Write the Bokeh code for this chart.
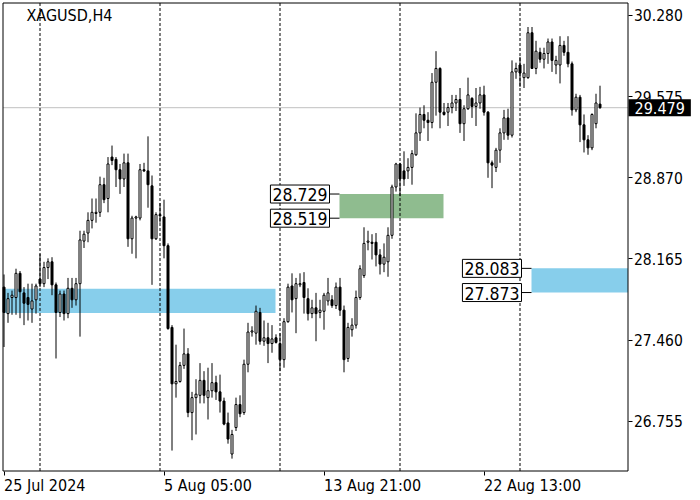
from bokeh.plotting import figure
from bokeh.models import (ColumnDataSource, Range1d, FixedTicker,
                          NumeralTickFormatter, Label)
from bokeh.embed import file_html
from bokeh.resources import INLINE

# ---------------- data ----------------
symbol = "XAGUSD,H4"

opens = [27.92, 27.69, 27.83, 27.83, 28.04, 27.87, 27.83, 27.73, 27.81, 27.99,
         27.95, 28.09, 28.14, 27.94, 27.70, 27.86, 27.69, 27.91, 27.81, 27.95,
         28.32, 28.39, 28.50, 28.56, 28.57, 28.81, 28.69, 29.05, 29.03, 28.94,
         28.86, 29.00, 28.34, 28.52, 28.52, 28.94, 28.93, 28.80, 28.34, 28.55,
         28.53, 28.28, 27.57, 27.08, 27.10, 27.24, 27.34, 26.83, 26.96, 26.98,
         27.11, 26.96, 27.02, 27.09, 27.01, 26.93, 26.74, 26.47, 26.70, 26.90,
         26.83, 27.25, 27.53, 27.52, 27.70, 27.45, 27.48, 27.43, 27.48, 27.43,
         27.29, 27.62, 27.93, 27.82, 27.94, 27.96, 27.82, 27.69, 27.74, 27.70,
         27.71, 27.80, 27.81, 27.76, 27.92, 27.72, 27.30, 27.55, 27.59, 27.83,
         28.02, 28.31, 28.31, 28.31, 28.20, 28.12, 28.14, 28.37, 28.79, 28.99,
         28.93, 28.93, 28.96, 29.07, 29.26, 29.42, 29.37, 29.35, 29.70, 29.82,
         29.44, 29.44, 29.48, 29.52, 29.55, 29.34, 29.47, 29.56, 29.49, 29.52,
         29.59, 29.44, 29.00, 28.96, 29.11, 29.26, 29.39, 29.24, 29.79, 29.85,
         29.74, 29.74, 30.13, 29.82, 29.96, 29.90, 29.95, 30.05, 29.85, 29.85,
         30.02, 29.96, 29.86, 29.46, 29.57, 29.33, 29.20, 29.13, 29.34, 29.51]
highs = [28.03, 27.87, 27.89, 28.08, 28.06, 27.92, 27.95, 27.95, 27.95, 28.21,
         28.14, 28.17, 28.18, 27.96, 27.89, 27.89, 28.00, 28.00, 28.00, 28.41,
         28.41, 28.57, 28.69, 28.69, 28.88, 28.87, 29.05, 29.15, 29.05, 28.99,
         29.08, 29.08, 28.54, 28.54, 28.99, 29.00, 29.23, 28.89, 28.57, 28.65,
         28.68, 28.30, 27.59, 27.42, 27.27, 27.56, 27.39, 27.01, 27.12, 27.26,
         27.19, 27.22, 27.26, 27.15, 27.16, 26.96, 26.83, 26.68, 26.96, 26.98,
         27.29, 27.61, 27.58, 27.76, 27.74, 27.63, 27.61, 27.59, 27.51, 27.52,
         27.65, 27.95, 28.04, 28.00, 28.04, 28.05, 27.91, 27.81, 27.87, 27.81,
         27.87, 28.00, 27.85, 27.96, 28.00, 27.76, 27.61, 27.65, 27.89, 28.11,
         28.44, 28.41, 28.38, 28.39, 28.25, 28.30, 28.44, 28.81, 29.00, 29.00,
         29.10, 29.04, 29.11, 29.43, 29.48, 29.50, 29.44, 29.78, 29.97, 29.83,
         29.52, 29.52, 29.59, 29.59, 29.65, 29.50, 29.74, 29.57, 29.65, 29.66,
         29.67, 29.45, 29.02, 29.13, 29.30, 29.46, 29.47, 29.89, 29.87, 29.92,
         29.86, 30.18, 30.18, 30.06, 30.00, 30.00, 30.08, 30.08, 29.93, 30.10,
         30.06, 30.10, 29.88, 29.60, 29.59, 29.42, 29.24, 29.43, 29.60, 29.67]
lows = [27.40, 27.61, 27.68, 27.68, 27.65, 27.59, 27.63, 27.61, 27.69, 27.92,
        27.92, 27.99, 27.85, 27.30, 27.66, 27.63, 27.65, 27.74, 27.76, 27.49,
        28.26, 28.31, 28.43, 28.48, 28.53, 28.65, 28.57, 28.98, 28.79, 28.73,
        28.79, 28.27, 28.21, 28.17, 28.50, 28.92, 28.61, 27.94, 28.33, 28.48,
        28.17, 27.55, 26.50, 26.96, 27.09, 27.21, 26.79, 26.59, 26.64, 26.91,
        26.91, 26.77, 26.96, 26.94, 26.83, 26.72, 26.56, 26.43, 26.67, 26.79,
        26.81, 27.18, 27.49, 27.42, 27.42, 27.41, 27.26, 27.35, 27.43, 27.19,
        27.22, 27.61, 27.70, 27.52, 27.92, 27.69, 27.63, 27.65, 27.45, 27.65,
        27.55, 27.76, 27.74, 27.73, 27.67, 27.18, 27.27, 27.49, 27.56, 27.81,
        28.00, 28.24, 28.16, 28.10, 28.03, 28.05, 28.01, 28.34, 28.75, 28.71,
        28.80, 28.86, 28.81, 29.06, 29.19, 29.30, 29.19, 29.30, 29.41, 29.30,
        29.41, 29.32, 29.43, 29.45, 29.26, 29.19, 29.46, 29.39, 29.32, 29.47,
        29.41, 28.87, 28.78, 28.92, 29.00, 29.20, 29.20, 29.22, 29.73, 29.66,
        29.65, 29.73, 29.82, 29.77, 29.87, 29.82, 29.86, 29.79, 29.77, 29.69,
        29.93, 29.83, 29.41, 29.44, 29.18, 29.09, 29.07, 29.11, 29.30, 29.47]
closes = [27.70, 27.82, 27.85, 28.04, 27.88, 27.78, 27.77, 27.80, 27.93, 27.95,
          28.09, 28.14, 27.94, 27.70, 27.86, 27.69, 27.91, 27.81, 27.95, 28.33,
          28.38, 28.50, 28.57, 28.57, 28.81, 28.68, 28.99, 29.02, 28.94, 28.86,
          29.00, 28.34, 28.52, 28.53, 28.94, 28.93, 28.81, 28.34, 28.55, 28.54,
          28.28, 27.56, 27.08, 27.10, 27.24, 27.34, 26.83, 26.96, 26.99, 27.11,
          26.98, 27.02, 27.09, 27.01, 26.93, 26.73, 26.60, 26.64, 26.90, 26.82,
          27.25, 27.53, 27.54, 27.71, 27.45, 27.48, 27.43, 27.47, 27.44, 27.29,
          27.62, 27.92, 27.81, 27.95, 27.95, 27.83, 27.69, 27.74, 27.69, 27.72,
          27.85, 27.87, 27.76, 27.92, 27.72, 27.29, 27.57, 27.59, 27.83, 28.08,
          28.30, 28.32, 28.30, 28.20, 28.12, 28.18, 28.37, 28.79, 28.99, 28.86,
          28.86, 28.96, 29.08, 29.26, 29.42, 29.37, 29.35, 29.70, 29.82, 29.44,
          29.42, 29.48, 29.52, 29.55, 29.34, 29.47, 29.59, 29.49, 29.52, 29.59,
          29.44, 29.00, 28.98, 29.11, 29.26, 29.39, 29.24, 29.79, 29.82, 29.78,
          29.78, 30.13, 29.82, 29.97, 29.90, 29.95, 30.05, 29.89, 29.89, 30.02,
          29.96, 29.86, 29.46, 29.57, 29.33, 29.20, 29.13, 29.42, 29.52, 29.479]

date_tick_idx = [0, 40, 80, 120]
date_tick_labels = ["25 Jul 2024", "5 Aug 05:00", "13 Aug 21:00", "22 Aug 13:00"]
week_sep_idx = [9, 39, 69, 99, 129]
price_ticks = [26.755, 27.460, 28.165, 28.870, 29.575, 30.280]
last_price = 29.479

# price zones: start / end (in bar index), low / high price
zone_start = [-5.0, 83.875, 131.875]
zone_end = [67.875, 109.875, 170.0]
zone_low = [27.695, 28.519, 27.873]
zone_high = [27.905, 28.729, 28.083]
zone_labelled = [False, True, True]

# ---------------- layout / style ----------------
FONT = "'DejaVu Sans Condensed', 'DejaVu Sans'"
zone_colors = ["#87CEEB", "#8FBC8F", "#87CEEB"]
W, H = 698, 494          # canvas size (px)
PX_I = 4.0               # px per bar
PX_P = 115.1             # px per price unit
X_PAD = 3.5              # canvas x of bar 0
Y_TOP = 30.4103          # price at canvas top


def xd(px):
    return (px - X_PAD) / PX_I


def yd(py):
    return Y_TOP - py / PX_P


def set_padding(lab, left, right, top, bottom, fallback):
    try:
        lab.padding = dict(left=left, right=right, top=top, bottom=bottom)
    except Exception:
        lab.padding = fallback
    return lab


XL, XR = xd(2.5), xd(627.5)     # chart box edges
YT, YB = yd(2.5), yd(470.5)

p = figure(width=W, height=H, x_range=Range1d(xd(0), xd(W)),
           y_range=Range1d(yd(H), yd(0)), y_axis_location="right",
           output_backend="svg", toolbar_location=None, title=None,
           min_border=0)
p.background_fill_color = "white"
p.border_fill_color = "white"
p.outline_line_color = None
p.grid.visible = False

# price scale (right), drawn at the chart box edge
ya = p.yaxis[0]
ya.fixed_location = XR
ya.ticker = FixedTicker(ticks=price_ticks)
ya.formatter = NumeralTickFormatter(format="0.000")
ya.major_tick_out = 4
ya.major_tick_in = 0
ya.minor_tick_out = 0
ya.minor_tick_in = 0
ya.major_label_standoff = 2
ya.major_label_text_font = FONT
ya.major_label_text_font_size = "15.5px"
ya.major_label_text_color = "black"
ya.axis_line_color = None

# time scale (below): tick marks at the chart box bottom
xa = p.xaxis[0]
xa.fixed_location = YB
xa.ticker = FixedTicker(ticks=date_tick_idx)
xa.major_label_overrides = {t: "" for t in date_tick_idx}
xa.major_tick_out = 4
xa.major_tick_in = 0
xa.minor_tick_out = 0
xa.minor_tick_in = 0
xa.axis_line_color = None

# current price line
p.segment(x0=[XL], x1=[XR], y0=[last_price], y1=[last_price],
          line_color="#c0c0c0", line_width=1)

# zones (clipped to the chart box)
p.quad(left=[max(s, XL) for s in zone_start],
       right=[min(e, XR) for e in zone_end],
       bottom=zone_low, top=zone_high, fill_color=zone_colors, line_color=None)

# period separators
n = len(week_sep_idx)
p.segment(x0=week_sep_idx, x1=week_sep_idx, y0=[YB] * n, y1=[YT] * n,
          line_color="black", line_width=1, line_dash="3 2")

# candles
idx = list(range(len(opens)))
bull = [c >= o for o, c in zip(opens, closes)]
src = ColumnDataSource(dict(
    x=idx, high=highs, low=lows,
    top=[max(o, c) for o, c in zip(opens, closes)],
    bottom=[min(o, c) for o, c in zip(opens, closes)],
    fill=["white" if b else "black" for b in bull],
))
p.segment(x0="x", x1="x", y0="low", y1="high", source=src,
          line_color="black", line_width=1)
p.vbar(x="x", width=0.5, top="top", bottom="bottom", source=src,
       fill_color="fill", line_color="black", line_width=1)

# zone price tags
for s, lo, hi, lab in zip(zone_start, zone_low, zone_high, zone_labelled):
    if not lab:
        continue
    box_right = s - 10 / PX_I
    p.segment(x0=[box_right, box_right], x1=[s, s], y0=[hi, lo], y1=[hi, lo],
              line_color="black", line_width=1)
    for lvl in (hi, lo):
        tag = Label(x=box_right, y=lvl, x_offset=0,
                    text=f"{lvl:.3f}", text_align="right",
                    text_baseline="middle", text_font=FONT,
                    text_font_size="17.5px", text_color="black",
                    background_fill_color="white",
                    border_line_color="black", border_line_width=1)
        p.add_layout(set_padding(tag, 2, 2, 3, 2, 2))

# chart box
p.quad(left=[XL], right=[XR], bottom=[YB], top=[YT], fill_color=None,
       line_color="black", line_width=1)

# symbol caption
p.add_layout(Label(x=xd(26), y=yd(15), text=symbol, text_align="left",
                   text_baseline="middle", text_font=FONT,
                   text_font_size="16px", text_color="black"))

# date labels under the time scale ticks (left aligned at the tick)
for t, s in zip(date_tick_idx, date_tick_labels):
    p.add_layout(Label(x=t, y=yd(484.5), text=s, text_align="left",
                       text_baseline="middle", text_font=FONT,
                       text_font_size="16px", text_color="black"))

# last price tag on the price scale
tag = Label(x=xd(628), y=last_price, text=f"{last_price:.3f}",
            text_align="left", text_baseline="middle", text_font=FONT,
            text_font_size="16px", text_color="white",
            background_fill_color="black")
p.add_layout(set_padding(tag, 6, 6, 3, 2, 3))

open("out.html", "w").write(file_html(p, INLINE))
